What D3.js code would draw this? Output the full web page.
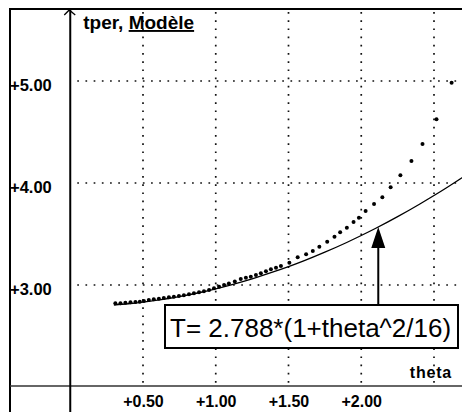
<!DOCTYPE html>
<html>
<head>
<meta charset="utf-8">
<script src="https://cdn.jsdelivr.net/npm/d3@7/dist/d3.min.js"></script>
<style>
  html, body { margin: 0; padding: 0; background: #fff; }
  svg { display: block; }
</style>
</head>
<body>
<svg id="chart" width="462" height="412"></svg>
<script>
// ---- data ----
const measTheta = [0.310,0.345,0.379,0.414,0.448,0.478,0.506,0.540,0.574,0.609,0.643,0.678,0.712,0.747,0.781,0.816,0.850,0.885,0.919,0.954,0.988,1.023,1.057,1.090,1.131,1.172,1.207,1.241,1.276,1.310,1.345,1.379,1.414,1.448,1.506,1.563,1.621,1.667,1.712,1.766,1.816,1.855,1.901,1.947,1.984,2.030,2.088,2.145,2.202,2.269,2.345,2.421,2.517,2.621];
const measT     = [2.821,2.821,2.826,2.830,2.833,2.836,2.843,2.853,2.860,2.866,2.873,2.879,2.885,2.892,2.899,2.909,2.919,2.928,2.938,2.951,2.968,2.983,3.000,3.015,3.034,3.059,3.071,3.081,3.098,3.115,3.134,3.154,3.170,3.186,3.219,3.272,3.301,3.333,3.375,3.425,3.474,3.517,3.562,3.618,3.660,3.725,3.794,3.860,3.958,4.075,4.216,4.382,4.624,4.983];
const modelTheta = [0.30,0.40,0.50,0.60,0.75,0.90,1.00,1.10,1.25,1.40,1.50,1.60,1.75,1.90,2.00,2.10,2.25,2.40,2.50,2.60,2.75];
const modelT     = [2.804,2.816,2.832,2.851,2.886,2.929,2.962,2.999,3.060,3.130,3.180,3.234,3.322,3.417,3.485,3.556,3.670,3.792,3.877,3.966,4.106];
const xTicks = [0.5, 1.0, 1.5, 2.0];
const xGrid  = [0.5, 1.0, 1.5, 2.0, 2.5];
const yTicks = [3, 4, 5];
const yTitle = ["tper, ", "Modèle"];
const xTitle = "theta";
const annotText = "T= 2.788*(1+theta^2/16)";
const arrowTheta = 2.117, arrowT = 3.569;

// ---- layout ----
const svg = d3.select("#chart");
const W = 462, H = 412;
const x = d3.scaleLinear().domain([0.5, 2.5]).range([143, 434]);
const y = d3.scaleLinear().domain([3, 5]).range([285, 81]);
const x0 = x(0), yBase = y(2);
const frameL = 10, frameT = 9;

svg.append("rect").attr("width", W).attr("height", H).attr("fill", "#fff");

const defs = svg.append("defs");
defs.append("clipPath").attr("id", "plot")
  .append("rect").attr("x", x0).attr("y", frameT).attr("width", W - x0).attr("height", yBase - frameT);

// gridlines
const grid = svg.append("g").attr("stroke", "#111").attr("stroke-width", 1.7)
  .attr("stroke-dasharray", "1.7,6.5").attr("fill", "none");
grid.selectAll("line.v").data(xGrid).join("line")
  .attr("x1", d => x(d)).attr("x2", d => x(d))
  .attr("y1", frameT + 3).attr("y2", yBase);
grid.selectAll("line.h").data(yTicks).join("line")
  .attr("x1", x0 + 7).attr("x2", W)
  .attr("y1", d => y(d)).attr("y2", d => y(d));

// frame + axes
svg.append("line").attr("x1", frameL).attr("x2", W).attr("y1", frameT).attr("y2", frameT)
  .attr("stroke", "#000").attr("stroke-width", 2);
svg.append("line").attr("x1", frameL).attr("x2", frameL).attr("y1", frameT - 1).attr("y2", H)
  .attr("stroke", "#000").attr("stroke-width", 2);
svg.append("line").attr("x1", frameL).attr("x2", W).attr("y1", yBase - 1).attr("y2", yBase - 1)
  .attr("stroke", "#333").attr("stroke-width", 1.5);
svg.append("line").attr("x1", x0).attr("x2", x0).attr("y1", frameT + 1).attr("y2", H)
  .attr("stroke", "#000").attr("stroke-width", 2);
svg.append("path")
  .attr("d", `M${x0 - 6},${frameT + 6} L${x0 - 1},${frameT + 1} L${x0 + 5},${frameT + 6}`)
  .attr("fill", "none").attr("stroke", "#000").attr("stroke-width", 1.3);

const plot = svg.append("g").attr("clip-path", "url(#plot)");

// model line
const line = d3.line().x(d => x(d[0])).y(d => y(d[1])).curve(d3.curveMonotoneX);
plot.append("path")
  .datum(modelTheta.map((t, i) => [t, modelT[i]]))
  .attr("d", line).attr("fill", "none").attr("stroke", "#000").attr("stroke-width", 1.3);

// measured points
plot.selectAll("circle.m").data(measTheta.map((t, i) => [t, measT[i]])).join("circle")
  .attr("cx", d => x(d[0])).attr("cy", d => y(d[1])).attr("r", 2).attr("fill", "#000");

// axes labels (ticks)
const fmt = d => "+" + d3.format(".2f")(d);
const xAxis = d3.axisBottom(x).tickValues(xTicks).tickFormat(fmt).tickSize(0).tickPadding(0);
const gx = svg.append("g").attr("transform", `translate(0,${yBase + 5})`).call(xAxis);
gx.select(".domain").remove();
gx.selectAll("text").attr("font-family", "'Liberation Sans', Arial, sans-serif")
  .attr("font-weight", "bold").attr("font-size", 16).attr("fill", "#000").attr("dy", "0.95em");

const yAxis = d3.axisRight(y).tickValues(yTicks).tickFormat(fmt).tickSize(0).tickPadding(0);
const gy = svg.append("g").attr("transform", `translate(${frameL},0)`).call(yAxis);
gy.select(".domain").remove();
gy.selectAll("text").attr("font-family", "'Liberation Sans', Arial, sans-serif")
  .attr("font-weight", "bold").attr("font-size", 16.5).attr("fill", "#000")
  .attr("x", 0).attr("dy", "0.55em").attr("text-anchor", "start");

// axis titles
const yt = svg.append("text").attr("x", x0 + 13).attr("y", 29)
  .attr("font-family", "'Liberation Sans', Arial, sans-serif").attr("font-weight", "bold")
  .attr("font-size", 19).attr("fill", "#000");
yt.append("tspan").text(yTitle[0]);
yt.append("tspan").attr("text-decoration", "underline").text(yTitle[1]);

svg.append("text").attr("x", 452).attr("y", 378).attr("text-anchor", "end")
  .attr("font-family", "'Liberation Sans', Arial, sans-serif").attr("font-weight", "bold")
  .attr("font-size", 16).attr("letter-spacing", 0.8).attr("fill", "#000").text(xTitle);

// annotation box
const boxX = 165, boxY = 305, boxW = 293, boxH = 43;
svg.append("rect").attr("x", boxX).attr("y", boxY).attr("width", boxW).attr("height", boxH)
  .attr("fill", "#fff").attr("stroke", "#000").attr("stroke-width", 2);
svg.append("text").attr("x", boxX + 5).attr("y", boxY + 32)
  .attr("font-family", "'Liberation Sans', Arial, sans-serif").attr("font-size", 26)
  .attr("fill", "#000").text(annotText);

// arrow to model line
const ax = x(arrowTheta), ay = y(arrowT);
svg.append("line").attr("x1", ax).attr("x2", ax).attr("y1", boxY).attr("y2", ay + 18)
  .attr("stroke", "#000").attr("stroke-width", 2);
svg.append("path").attr("d", `M${ax},${ay} L${ax - 7},${ay + 21} L${ax + 7},${ay + 21} Z`)
  .attr("fill", "#000");
</script>
</body>
</html>
